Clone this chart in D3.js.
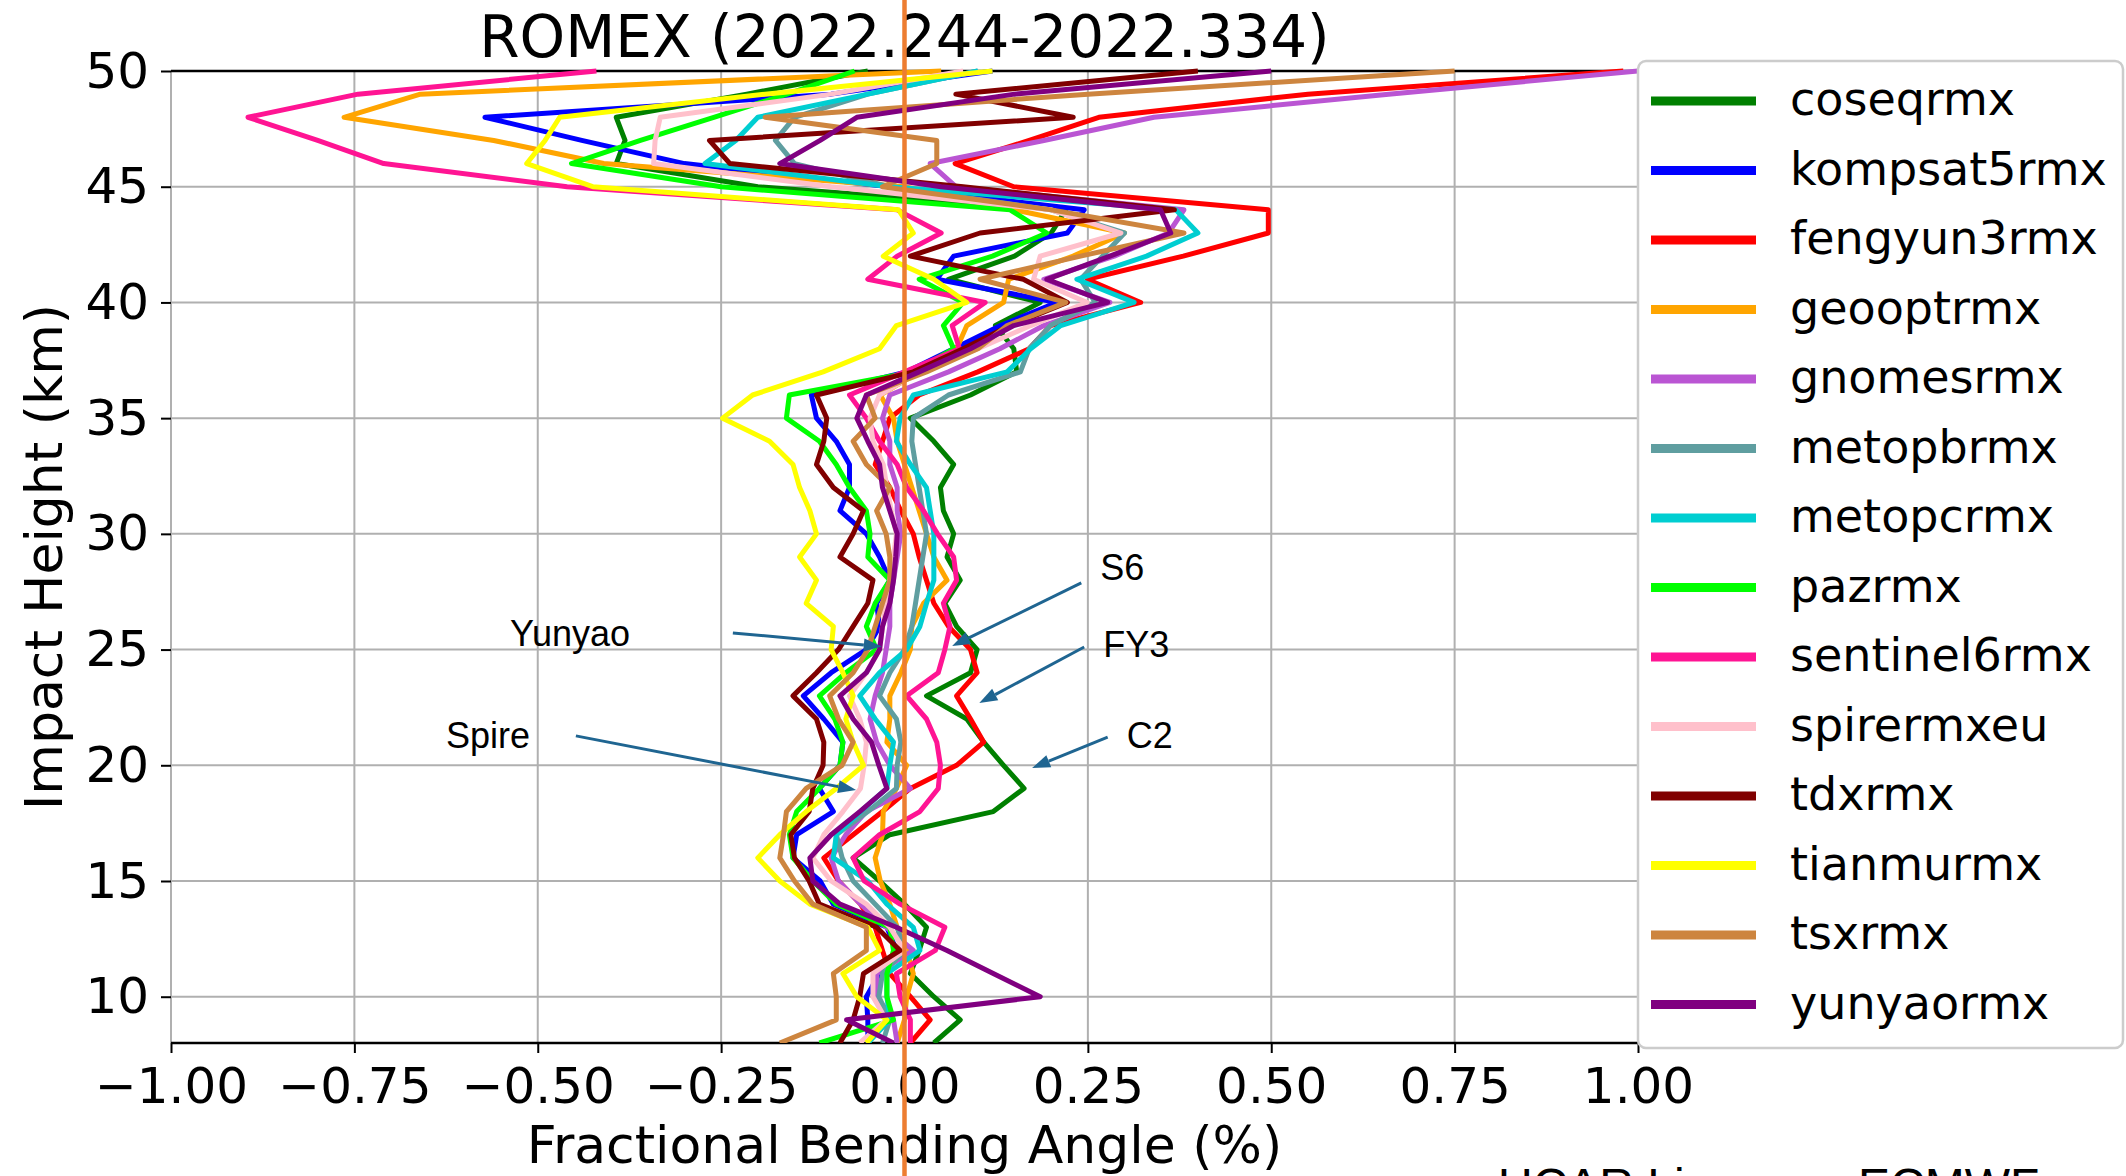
<!DOCTYPE html>
<html lang="en">
<head>
    <meta charset="UTF-8">
    <title>ROMEX (2022.244-2022.334)</title>
    <script src="https://cdn.jsdelivr.net/npm/d3@7"></script>
    <style>
        html, body { margin: 0; padding: 0; background: #ffffff; }
        svg { display: block; }
        .tick text { font-family: 'DejaVu Sans', sans-serif; font-size: 50px; fill: #000; }
        .tick line { stroke: #000; stroke-width: 2; }
        .grid line { stroke: #b0b0b0; stroke-width: 2; }
        .label { font-family: 'DejaVu Sans', sans-serif; font-size: 52px; fill: #000; }
        .title { font-family: 'DejaVu Sans', sans-serif; font-size: 58px; fill: #000; }
        .legend text { font-family: 'DejaVu Sans', sans-serif; font-size: 46px; fill: #000; }
        .note { font-family: 'Liberation Sans', Arial, sans-serif; font-size: 36px; fill: #000; }
    </style>
</head>
<body>
<svg id="chart" width="2126" height="1176"></svg>
<script>
// impact heights (km), top to bottom
const heights = [50, 49, 48, 47, 46, 45, 44, 43, 42, 41, 40,
                 39, 38, 37, 36, 35, 34, 33, 32, 31, 30,
                 29, 28, 27, 26, 25, 24, 23, 22, 21, 20,
                 19, 18, 17, 16, 15, 14, 13, 12, 11, 10, 9, 8];

// fractional bending angle (%) per mission, same order as heights
const coseqrmx = [-0.05, -0.215, -0.393, -0.381, -0.393, -0.20, 0.22, 0.20, 0.15, 0.06, 0.185,
    0.124, 0.149, 0.153, 0.09, 0.008, 0.04, 0.067, 0.049, 0.053, 0.067,
    0.058, 0.076, 0.055, 0.071, 0.099, 0.09, 0.03, 0.085, 0.108, 0.135,
    0.163, 0.121, -0.02, -0.07, -0.034, 0.0, 0.03, 0.02, 0.008, 0.04, 0.076, 0.04];
const kompsat5rmx = [0.12, -0.10, -0.572, -0.44, -0.30, -0.02, 0.245, 0.222, 0.067, 0.044, 0.208,
    0.131, 0.067, 0.003, -0.127, -0.12, -0.093, -0.075, -0.075, -0.088, -0.052,
    -0.034, -0.02, -0.038, -0.034, -0.052, -0.10, -0.138, -0.11, -0.084, -0.088,
    -0.116, -0.097, -0.147, -0.152, -0.115, -0.097, -0.024, -0.011, -0.034, -0.052, -0.05, -0.05];
const fengyun3rmx = [0.98, 0.55, 0.265, 0.17, 0.069, 0.149, 0.496, 0.496, 0.38, 0.249, 0.322,
    0.199, 0.17, 0.10, 0.02, -0.02, -0.03, -0.04, -0.02, -0.005, 0.012,
    0.02, 0.03, 0.04, 0.06, 0.09, 0.099, 0.071, 0.09, 0.108, 0.071,
    0.008, -0.03, -0.07, -0.11, -0.09, -0.06, -0.04, -0.03, -0.02, 0.008, 0.035, 0.008];
const geooptrmx = [0.05, -0.66, -0.764, -0.56, -0.41, 0.0, 0.15, 0.30, 0.23, 0.142, 0.135,
    0.085, 0.071, 0.02, -0.033, -0.015, -0.01, 0.0, 0.01, 0.02, 0.03,
    0.04, 0.058, 0.026, 0.01, 0.008, -0.005, -0.02, -0.02, -0.024, 0.003,
    -0.011, -0.029, -0.03, -0.04, -0.033, -0.02, -0.01, 0.003, 0.012, 0.003, 0.0, -0.01];
const gnomesrmx = [1.0, 0.66, 0.34, 0.19, 0.035, 0.07, 0.381, 0.36, 0.286, 0.19, 0.28,
    0.19, 0.13, 0.06, -0.02, -0.03, -0.02, -0.02, -0.01, -0.01, -0.005,
    -0.01, -0.015, -0.02, -0.02, -0.025, -0.03, -0.04, -0.047, -0.038, -0.02,
    0.008, -0.052, -0.08, -0.10, -0.09, -0.06, -0.025, 0.012, -0.038, -0.038, -0.015, -0.01];
const metopbrmx = [0.10, -0.05, -0.15, -0.176, -0.15, -0.02, 0.20, 0.30, 0.27, 0.24, 0.26,
    0.199, 0.17, 0.158, 0.06, 0.012, 0.01, 0.015, 0.02, 0.025, 0.03,
    0.025, 0.02, 0.015, 0.01, 0.0, -0.02, -0.034, -0.011, -0.005, -0.01,
    -0.011, -0.05, -0.093, -0.085, -0.07, -0.04, -0.01, 0.0, -0.03, -0.035, -0.02, -0.03];
const metopcrmx = [0.10, -0.05, -0.20, -0.23, -0.272, -0.02, 0.37, 0.40, 0.33, 0.235, 0.313,
    0.213, 0.172, 0.14, 0.012, -0.006, -0.011, 0.008, 0.03, 0.035, 0.04,
    0.04, 0.04, 0.03, 0.021, 0.003, -0.034, -0.061, -0.04, -0.015, -0.02,
    -0.024, -0.06, -0.093, -0.097, -0.05, -0.024, 0.012, 0.021, -0.024, -0.024, -0.02, -0.05];
const pazrmx = [-0.068, -0.16, -0.26, -0.36, -0.454, -0.25, 0.144, 0.194, 0.12, 0.02, 0.08,
    0.053, 0.067, 0.012, -0.157, -0.161, -0.116, -0.093, -0.075, -0.052, -0.047,
    -0.05, -0.02, -0.04, -0.052, -0.038, -0.08, -0.116, -0.095, -0.084, -0.088,
    -0.116, -0.147, -0.157, -0.152, -0.125, -0.093, -0.02, -0.015, -0.024, -0.024, -0.015, -0.116];
const sentinel6rmx = [-0.42, -0.745, -0.895, -0.80, -0.71, -0.46, -0.01, 0.05, -0.01, -0.05, 0.11,
    0.065, 0.075, 0.0, -0.075, -0.052, -0.034, -0.01, 0.003, 0.026, 0.045,
    0.067, 0.071, 0.053, 0.062, 0.055, 0.046, 0.003, 0.03, 0.044, 0.049,
    0.046, 0.021, -0.034, -0.07, -0.055, -0.006, 0.055, 0.042, -0.011, -0.006, 0.008, 0.008];
const spirermxeu = [0.08, -0.10, -0.333, -0.34, -0.342, -0.10, 0.20, 0.295, 0.185, 0.176, 0.249,
    0.172, 0.10, 0.02, -0.034, -0.047, -0.043, -0.029, -0.024, -0.018, -0.011,
    -0.015, -0.02, -0.025, -0.03, -0.034, -0.052, -0.075, -0.061, -0.052, -0.055,
    -0.06, -0.084, -0.11, -0.125, -0.10, -0.052, -0.02, 0.0, -0.043, -0.043, -0.025, -0.061];
const tdxrmx = [0.40, 0.07, 0.23, -0.266, -0.238, 0.08, 0.368, 0.103, 0.008, 0.162, 0.222,
    0.144, 0.08, 0.012, -0.12, -0.106, -0.11, -0.12, -0.097, -0.056, -0.07,
    -0.088, -0.043, -0.05, -0.07, -0.09, -0.12, -0.152, -0.12, -0.11, -0.111,
    -0.125, -0.13, -0.155, -0.15, -0.13, -0.116, -0.038, -0.006, -0.056, -0.061, -0.07, -0.088];
const tianmurmx = [0.12, -0.19, -0.47, -0.49, -0.515, -0.425, -0.008, 0.012, -0.029, 0.04, 0.085,
    -0.011, -0.034, -0.111, -0.207, -0.248, -0.184, -0.152, -0.143, -0.129, -0.12,
    -0.143, -0.12, -0.134, -0.097, -0.10, -0.084, -0.07, -0.08, -0.07, -0.056,
    -0.093, -0.134, -0.17, -0.20, -0.17, -0.129, -0.05, -0.034, -0.084, -0.065, -0.024, -0.052];
const tsxrmx = [0.75, 0.25, -0.19, 0.044, 0.044, -0.03, 0.20, 0.381, 0.24, 0.103, 0.22,
    0.14, 0.10, 0.03, -0.052, -0.04, -0.07, -0.052, -0.02, -0.038, -0.025,
    -0.02, -0.02, -0.03, -0.04, -0.05, -0.07, -0.102, -0.09, -0.07, -0.085,
    -0.134, -0.161, -0.165, -0.17, -0.15, -0.125, -0.052, -0.052, -0.097, -0.093, -0.093, -0.17];
const yunyaormx = [0.50, 0.15, -0.065, -0.115, -0.17, 0.05, 0.349, 0.363, 0.28, 0.194, 0.277,
    0.149, 0.09, 0.02, -0.052, -0.065, -0.05, -0.034, -0.03, -0.02, -0.01,
    -0.012, -0.015, -0.02, -0.03, -0.034, -0.052, -0.088, -0.07, -0.045, -0.035,
    -0.024, -0.061, -0.10, -0.129, -0.125, -0.088, -0.011, 0.058, 0.121, 0.185, -0.079, -0.015];

const seriesNames = ["coseqrmx", "kompsat5rmx", "fengyun3rmx", "geooptrmx", "gnomesrmx",
    "metopbrmx", "metopcrmx", "pazrmx", "sentinel6rmx", "spirermxeu",
    "tdxrmx", "tianmurmx", "tsxrmx", "yunyaormx"];
const seriesValues = [coseqrmx, kompsat5rmx, fengyun3rmx, geooptrmx, gnomesrmx,
    metopbrmx, metopcrmx, pazrmx, sentinel6rmx, spirermxeu,
    tdxrmx, tianmurmx, tsxrmx, yunyaormx];
const seriesColors = ["#008000", "#0000ff", "#ff0000", "#ffa500", "#ba55d3",
    "#5f9ea0", "#00ced1", "#00ff00", "#ff1493", "#ffc0cb",
    "#800000", "#ffff00", "#cd853f", "#800080"];

const xTicks = [-1, -0.75, -0.5, -0.25, 0, 0.25, 0.5, 0.75, 1];
const yTicks = [10, 15, 20, 25, 30, 35, 40, 45, 50];

// callouts: label, label anchor, arrow tail, arrow head (data units)
const noteLabels = ["S6", "FY3", "C2", "Yunyao", "Spire"];
const noteText = [[0.267, 28.0], [0.271, 24.68], [0.303, 20.75], [-0.538, 25.15], [-0.625, 20.75]];
const noteFrom = [[0.241, 27.88], [0.245, 25.11], [0.277, 21.22], [-0.234, 25.72], [-0.448, 21.27]];
const noteTo = [[0.065, 25.15], [0.102, 22.69], [0.174, 19.88], [-0.031, 25.13], [-0.066, 18.93]];

const svg = d3.select("#chart");
const W = 2126, H = 1176;
const m = { left: 171, right: 1638, top: 71, bottom: 1043 };

svg.append("rect").attr("width", W).attr("height", H).attr("fill", "#fff");

const x = d3.scaleLinear().domain([-1, 1]).range([m.left, m.right]);
const y = d3.scaleLinear().domain([8, 50]).range([m.bottom, m.top]);

// grid
const grid = svg.append("g").attr("class", "grid");
grid.selectAll(".vx").data(xTicks).enter().append("line")
    .attr("x1", d => x(d)).attr("x2", d => x(d))
    .attr("y1", m.top).attr("y2", m.bottom);
grid.selectAll(".hy").data(yTicks).enter().append("line")
    .attr("x1", m.left).attr("x2", m.right)
    .attr("y1", d => y(d)).attr("y2", d => y(d));

// axes
const fmt = d3.format(".2f");
const xAxis = svg.append("g")
    .attr("transform", `translate(0,${m.bottom})`)
    .call(d3.axisBottom(x).tickValues(xTicks).tickFormat(fmt).tickSize(10).tickPadding(14));
xAxis.select(".domain").remove();

const yAxis = svg.append("g")
    .attr("transform", `translate(${m.left},0)`)
    .call(d3.axisLeft(y).tickValues(yTicks).tickFormat(d3.format("d")).tickSize(10).tickPadding(12));
yAxis.select(".domain").remove();

// top / bottom spines
svg.append("line").attr("x1", m.left).attr("x2", m.right).attr("y1", m.top).attr("y2", m.top)
    .attr("stroke", "#000").attr("stroke-width", 2.5);
svg.append("line").attr("x1", m.left).attr("x2", m.right).attr("y1", m.bottom).attr("y2", m.bottom)
    .attr("stroke", "#000").attr("stroke-width", 2.5);

// profiles
svg.append("clipPath").attr("id", "plotclip").append("rect")
    .attr("x", m.left).attr("y", m.top - 3).attr("width", m.right - m.left).attr("height", m.bottom - m.top + 3);

const line = d3.line()
    .x(d => x(d[0]))
    .y(d => y(d[1]));

const series = seriesNames.map((name, i) => ({
    name: name,
    color: seriesColors[i],
    points: seriesValues[i].map((v, j) => [v, heights[j]])
}));

svg.append("g").attr("clip-path", "url(#plotclip)")
    .selectAll("path").data(series).enter().append("path")
    .attr("d", d => line(d.points))
    .attr("fill", "none")
    .attr("stroke", d => d.color)
    .attr("stroke-width", 5)
    .attr("stroke-linejoin", "round");

// titles
svg.append("text").attr("class", "title")
    .attr("x", x(0)).attr("y", 57).attr("text-anchor", "middle")
    .text("ROMEX (2022.244-2022.334)");
svg.append("text").attr("class", "label")
    .attr("x", x(0)).attr("y", 1163).attr("text-anchor", "middle")
    .text("Fractional Bending Angle (%)");
svg.append("text").attr("class", "label")
    .attr("transform", `translate(62,${(m.top + m.bottom) / 2}) rotate(-90)`)
    .attr("text-anchor", "middle")
    .text("Impact Height (km)");

// legend
const legend = svg.append("g").attr("class", "legend");
legend.append("rect")
    .attr("x", 1638).attr("y", 61).attr("width", 485).attr("height", 987)
    .attr("rx", 8).attr("fill", "#fff").attr("stroke", "#cccccc").attr("stroke-width", 2.5);
const item = legend.selectAll(".item").data(series).enter().append("g")
    .attr("transform", (d, i) => `translate(0,${101 + i * 69.5})`);
item.append("line").attr("x1", 1651).attr("x2", 1756)
    .attr("stroke", d => d.color).attr("stroke-width", 9);
item.append("text").attr("x", 1790).attr("y", 14).text(d => d.name);

// callout arrows
const noteColor = "#1f6591";
const notes = svg.append("g");
noteLabels.forEach((lab, i) => {
    const x1 = x(noteFrom[i][0]), y1 = y(noteFrom[i][1]);
    const x2 = x(noteTo[i][0]), y2 = y(noteTo[i][1]);
    const ang = Math.atan2(y2 - y1, x2 - x1);
    const L = 18, hw = 6.5;
    const bx = x2 - L * Math.cos(ang), by = y2 - L * Math.sin(ang);
    notes.append("line").attr("x1", x1).attr("y1", y1).attr("x2", bx).attr("y2", by)
        .attr("stroke", noteColor).attr("stroke-width", 3);
    notes.append("path")
        .attr("d", `M${x2},${y2}L${bx - hw * Math.sin(ang)},${by + hw * Math.cos(ang)}L${bx + hw * Math.sin(ang)},${by - hw * Math.cos(ang)}Z`)
        .attr("fill", noteColor);
    notes.append("text").attr("class", "note")
        .attr("x", x(noteText[i][0])).attr("y", y(noteText[i][1]))
        .text(lab);
});

// zero reference line across the whole figure
svg.append("line").attr("x1", x(0)).attr("x2", x(0)).attr("y1", 0).attr("y2", H)
    .attr("stroke", "#ed7d31").attr("stroke-width", 4.5);

// footer text, cut by the bottom edge
svg.append("text").attr("class", "note").style("font-size", "48px")
    .attr("x", 1498).attr("y", 1202).text("UCAR Li");
svg.append("text").attr("class", "note").style("font-size", "48px")
    .attr("x", 1858).attr("y", 1202).text("ECMWF");
</script>
</body>
</html>
